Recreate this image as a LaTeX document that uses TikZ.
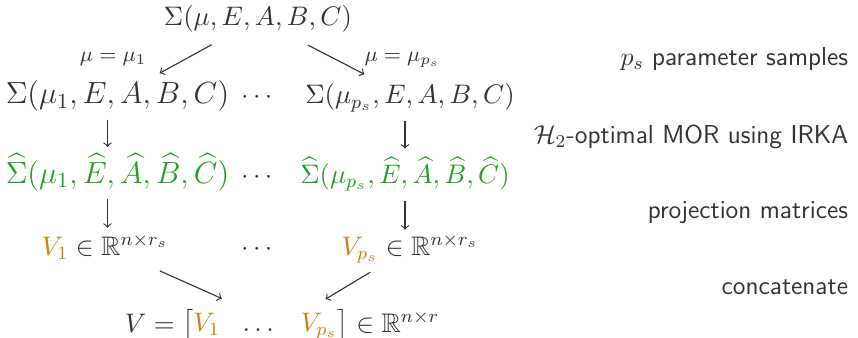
\documentclass[tikz,border=0pt]{standalone}
\usepackage{fix-cm}
\usepackage{amsmath,amssymb}
\usetikzlibrary{positioning,calc}
\definecolor{redgreen}{RGB}{34,160,34}
\definecolor{redorange}{RGB}{208,128,16}
\definecolor{textgray}{RGB}{51,51,51}
\newcommand{\orn}[1]{\textcolor{redorange}{#1}}
\begin{document}
\begin{tikzpicture}[x=0.444pt,y=-0.444pt, every node/.style={font=\fontsize{11.9}{14}\selectfont,text=textgray,inner sep=2pt},
  row/.style={anchor=base},
  wide/.style={row,font=\fontsize{13.6}{16}\selectfont},
  note/.style={anchor=base east,font=\fontsize{11.5}{13}\selectfont\sffamily},
  lbl/.style={anchor=base,font=\fontsize{9.5}{11}\selectfont},
  flow/.style={->,>=to,line width=0.5pt,draw=textgray}]
\useasboundingbox (0,0) rectangle (858,338);
% full parametric model
\node[row] (full) at (258,26) {$\Sigma(\mu,E,A,B,C)$};
\node[lbl] (lone) at (113,62) {$\mu=\mu_1$};
\node[lbl] (lps) at (402,62) {$\mu=\mu_{p_s}$};
% sampled models
\node[wide] (s1) at (117.5,104) {$\Sigma(\mu_1,E,A,B,C)$};
\node[row] (sdots) at (259,104) {$\cdots$};
\node[row] (sp) at (410,104) {$\Sigma(\mu_{p_s},E,A,B,C)$};
\draw[flow] ($(full)!0.33!(s1)$) -- ($(full)!0.70!(s1)$);
\draw[flow] ($(full)!0.33!(sp)$) -- ($(full)!0.70!(sp)$);
% reduced models
\node[wide,text=redgreen] (r1) at (117.5,183) {$\widehat{\Sigma}(\mu_1,\widehat{E},\widehat{A},\widehat{B},\widehat{C})$};
\node[row] (rdots) at (259,183) {$\cdots$};
\node[row,text=redgreen] (rp) at (405,183) {$\widehat{\Sigma}(\mu_{p_s},\widehat{E},\widehat{A},\widehat{B},\widehat{C})$};
\draw[flow] ($(s1)!0.31!(s1 |- r1) + (-10,0)$) -- ($(s1)!0.67!(s1 |- r1) + (-10,0)$);
\draw[flow] ($(rp |- sp)!0.31!(rp)$) -- ($(rp |- sp)!0.67!(rp)$);
% projection matrices
\node[row] (v1) at (105,255) {$\orn{V_1}\in\mathbb{R}^{n\times r_s}$};
\node[row] (vdots) at (259,255) {$\cdots$};
\node[row] (vp) at (410,255) {$\orn{V_{p_s}}\in\mathbb{R}^{n\times r_s}$};
\draw[flow] ($(r1)!0.36!(r1 |- v1) + (-10,0)$) -- ($(r1)!0.75!(r1 |- v1) + (-10,0)$);
\draw[flow] ($(rp)!0.36!(rp |- vp)$) -- ($(rp)!0.75!(rp |- vp)$);
% concatenation
\node[row] (vall) at (282,332) {$V=\begin{bmatrix}\orn{V_1} & \dots & \orn{V_{p_s}}\end{bmatrix}\in\mathbb{R}^{n\times r}$};
\draw[flow] ($(v1)!0.31!(vall)$) -- ($(v1)!0.66!(vall)$);
\draw[flow] ($(vp)!0.31!(vall)$) -- ($(vp)!0.66!(vall)$);
% notes
\node[note] (n1) at (853,66) {$p_s$ parameter samples};
\node[note] (n2) at (853,144) {$\mathcal{H}_2$-optimal MOR using IRKA};
\node[note] (n3) at (853,218) {projection matrices};
\node[note] (n4) at (853,294) {concatenate};
\end{tikzpicture}
\end{document}
